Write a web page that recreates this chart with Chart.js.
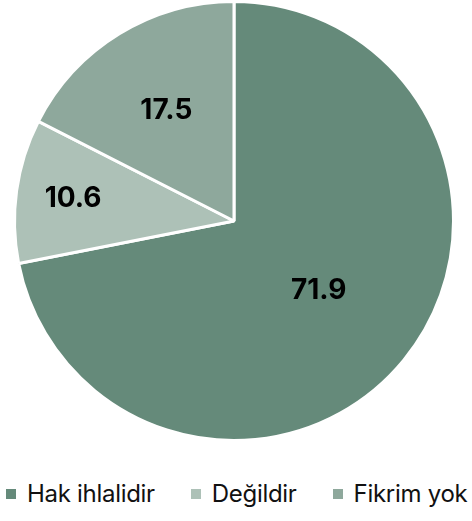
<!DOCTYPE html>
<html>
<head>
<meta charset="utf-8">
<script src="https://cdn.jsdelivr.net/npm/chart.js@4"></script>
<style>
  body { margin: 0; background: #fff; overflow: hidden; font-family: Inter, sans-serif; }
  #wrap { position: relative; width: 468px; height: 442px; }
  #legend { position: absolute; top: 479px; left: 6px; white-space: nowrap; font-size: 24px; letter-spacing: -0.3px; color: #111; }
  #legend span.item { display: inline-block; margin-right: 36px; }
  #legend i { display: inline-block; width: 10px; height: 10px; margin-right: 11px; vertical-align: 3px; }
</style>
</head>
<body>
<div id="wrap"><canvas id="chart"></canvas></div>
<div id="legend"></div>
<script>
const categories = ['Hak ihlalidir', 'Değildir', 'Fikrim yok'];
const values = [71.9, 10.6, 17.5];
const colors = ['#658a7a', '#adc1b7', '#8ea89c'];

// where each value label sits, as a fraction of the radius
const labelRadius = [0.5, 0.74, 0.59];

const sliceLabels = {
    id: 'sliceLabels',
    afterDatasetsDraw(chart) {
        const { ctx } = chart;
        const meta = chart.getDatasetMeta(0);
        ctx.save();
        ctx.font = 'bold 28px Inter, sans-serif';
        ctx.fillStyle = '#000';
        ctx.textAlign = 'center';
        ctx.textBaseline = 'middle';
        meta.data.forEach((arc, i) => {
            const { x, y, startAngle, endAngle, outerRadius } = arc.getProps(['x', 'y', 'startAngle', 'endAngle', 'outerRadius']);
            const mid = (startAngle + endAngle) / 2;
            const r = outerRadius * labelRadius[i];
            ctx.fillText(values[i].toFixed(1), x + Math.cos(mid) * r, y + Math.sin(mid) * r);
        });
        ctx.restore();
    }
};

new Chart('chart', {
    type: 'pie',
    data: {
        labels: categories,
        datasets: [{
            data: values,
            backgroundColor: colors,
            borderColor: '#fff',
            borderWidth: 3,
        }]
    },
    options: {
        responsive: true,
        maintainAspectRatio: false,
        animation: false,
        layout: { padding: 0 },
        plugins: {
            legend: { display: false },
            tooltip: { enabled: false },
        }
    },
    plugins: [sliceLabels],
});

const legendEl = document.getElementById('legend');
categories.forEach((c, i) => {
    legendEl.innerHTML += `<span class="item"><i style="background:${colors[i]}"></i>${c}</span>`;
});
</script>
</body>
</html>
